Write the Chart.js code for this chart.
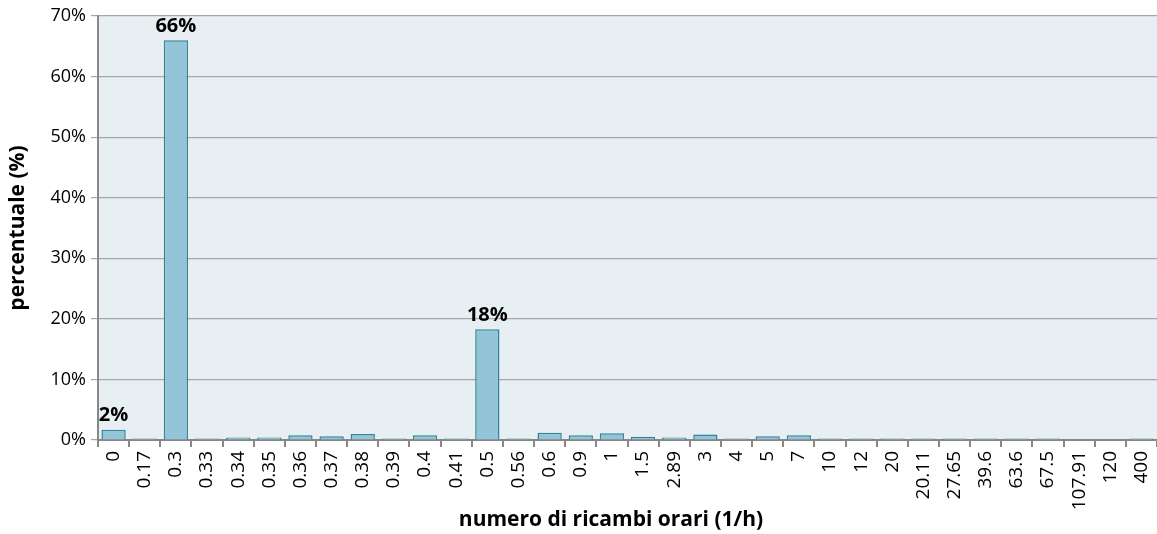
<!DOCTYPE html>
<html><head><meta charset="utf-8">
<script src="https://cdn.jsdelivr.net/npm/chart.js@4"></script>
<style>html,body{margin:0;padding:0;background:#fff}#w{width:1157px;height:534px}</style>
</head><body><div id="w"><canvas id="c"></canvas></div>
<script>
const categories = ["0","0.17","0.3","0.33","0.34","0.35","0.36","0.37","0.38","0.39","0.4","0.41","0.5","0.56","0.6","0.9","1","1.5","2.89","3","4","5","7","10","12","20","20.11","27.65","39.6","63.6","67.5","107.91","120","400"];
const values = [1.7,0.25,66,0.25,0.4,0.4,0.8,0.6,1.0,0.25,0.8,0.25,18.3,0.25,1.2,0.8,1.1,0.55,0.4,0.9,0.25,0.6,0.8,0.25,0.25,0.25,0.25,0.25,0.25,0.25,0.25,0,0,0.25];
const dataLabels = {0:"2%",2:"66%",12:"18%"};
const yTicks = [0,10,20,30,40,50,60,70];
const xTitle = 'numero di ricambi orari (1/h)';
const FONT = "'Open Sans', 'Liberation Sans', sans-serif";

const bgPlugin = {
  id:'bg',
  beforeDraw(chart){
    const {ctx, chartArea:a} = chart;
    ctx.save(); ctx.fillStyle = '#e8eff3';
    ctx.fillRect(a.left, a.top, a.right-a.left, a.bottom-a.top);
    ctx.restore();
  }
};
const labelPlugin = {
  id:'lbl',
  afterDatasetsDraw(chart){
    const {ctx} = chart;
    const meta = chart.getDatasetMeta(0);
    ctx.save();
    ctx.font = "bold 20px " + FONT;
    ctx.fillStyle = '#000';
    ctx.textAlign = 'center'; ctx.textBaseline = 'bottom';
    for (const k in dataLabels){
      const el = meta.data[k];
      ctx.fillText(dataLabels[k], el.x, el.y - 4);
    }
    ctx.restore();
  },
  afterDraw(chart){
    const {ctx} = chart;
    ctx.save();
    ctx.font = "bold 21px " + FONT;
    ctx.fillStyle = '#000';
    ctx.textAlign = 'center'; ctx.textBaseline = 'middle';
    ctx.fillText(xTitle, 611, 520);
    ctx.restore();
  }
};

new Chart(document.getElementById('c'), {
  type:'bar',
  data:{labels:categories, datasets:[{data:values, backgroundColor:'#93c4d7', borderColor:'#31849b', borderWidth:1.5, barPercentage:0.78, categoryPercentage:1}]},
  options:{
    responsive:true, maintainAspectRatio:false, animation:false,
    layout:{padding:{left:0,right:0,top:16,bottom:0}},
    plugins:{legend:{display:false}, tooltip:{enabled:false}},
    scales:{
      x:{
        grid:{display:true, drawOnChartArea:false, drawTicks:true, tickLength:7, color:'#888', lineWidth:2, offset:true},
        border:{display:true, color:'#888', width:2},
        ticks:{color:'#000', font:{family:FONT, size:19}, minRotation:90, maxRotation:90, autoSkip:false, padding:4},
        title:{display:false},
        afterFit(s){ s.height = 94; s.paddingRight = 0; s.paddingLeft = 0; }
      },
      y:{
        min:0, max:70,
        afterBuildTicks(s){ s.ticks = yTicks.map(v=>({value:v})); },
        grid:{color:'#a6a6a6', lineWidth:1.2, tickLength:7, drawTicks:true},
        border:{display:true, color:'#888', width:2},
        ticks:{color:'#000', font:{family:FONT, size:18}, padding:5, callback:v=>v+'%'},
        title:{display:true, text:'percentuale (%)', color:'#000', font:{family:FONT, size:21, weight:'bold'}, padding:{top:5,bottom:0}},
        afterFit(s){ s.width = 98; }
      }
    }
  },
  plugins:[bgPlugin, labelPlugin]
});
</script></body></html>
